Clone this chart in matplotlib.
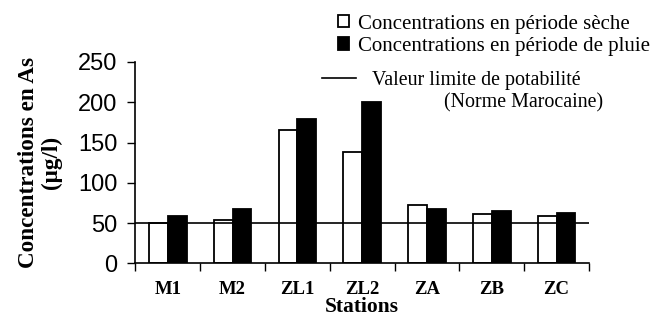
import matplotlib
matplotlib.use("Agg")
import matplotlib.pyplot as plt
from matplotlib.font_manager import FontProperties
import numpy as np

stations = ["M1", "M2", "ZL1", "ZL2", "ZA", "ZB", "ZC"]
dry = [50, 54, 165, 138, 72, 61, 59]
rain = [59, 68, 179, 200, 68, 65, 63]
limit_value = 50
yticks = [0, 50, 100, 150, 200, 250]

label_dry = "Concentrations en période sèche"
label_rain = "Concentrations en période de pluie"
label_limit = "Valeur limite de potabilité"
label_norm = "(Norme Marocaine)"

SERIF = "Liberation Serif"
SANS = "Liberation Sans"

fig = plt.figure(figsize=(6.53, 3.18), dpi=100)
W, H = 653, 318
ax = fig.add_axes([135.3 / W, 1 - 263.3 / H, (589 - 135.3) / W, (263.3 - 62) / H])

x = np.arange(len(stations))
w = 0.29
b1 = ax.bar(x - w / 2, dry, w, facecolor="white", edgecolor="black", linewidth=1.3, zorder=2)
b2 = ax.bar(x + w / 2, rain, w, facecolor="black", edgecolor="black", linewidth=1.3, zorder=2)
ln = ax.axhline(limit_value, color="black", linewidth=1.2, zorder=3)

ax.set_xlim(-0.5, len(stations) - 0.5)
ax.set_ylim(0, 250)
ax.set_yticks(yticks)
ax.set_yticklabels([str(v) for v in yticks], fontproperties=FontProperties(family=SANS, size=17))
ax.tick_params(axis="y", direction="out", length=6, width=1, pad=7)

ax.set_xticks(x)
ax.set_xticklabels(stations, fontproperties=FontProperties(family=SERIF, weight="bold", size=13.5))
ax.set_xticks(np.arange(len(stations) + 1) - 0.5, minor=True)
ax.tick_params(axis="x", which="major", length=0, pad=13)
ax.tick_params(axis="x", which="minor", direction="out", length=6, width=1)

for s in ["top", "right"]:
    ax.spines[s].set_visible(False)
for s in ["left", "bottom"]:
    ax.spines[s].set_linewidth(1.2)

fig.text(362 / W, 1 - 307.5 / H, "Stations", ha="center", va="center",
         fontproperties=FontProperties(family=SERIF, weight="bold", size=15.5))
fig.text(40 / W, 1 - 162 / H, "Concentrations en As\n(µg/l)", ha="center", va="center",
         rotation=90, fontproperties=FontProperties(family=SERIF, weight="bold", size=16.7),
         linespacing=1.1)

legfont = FontProperties(family=SERIF, size=15)
legfont2 = FontProperties(family=SERIF, size=14.4)
leg1 = fig.legend([b1, b2], [label_dry, label_rain], loc="upper left",
                  bbox_to_anchor=(338 / W, 1 - 14.5 / H), frameon=False,
                  prop=legfont, handlelength=0.55,
                  handleheight=0.55, handletextpad=0.4, labelspacing=0.15,
                  borderpad=0, borderaxespad=0)
leg2 = fig.legend([ln], [label_limit], loc="upper left",
                  bbox_to_anchor=(322 / W, 1 - 71 / H), frameon=False,
                  prop=legfont2, handlelength=1.7,
                  handletextpad=0.8, borderpad=0, borderaxespad=0)
fig.text(444 / W, 1 - 103 / H, label_norm, ha="left", va="center",
         fontproperties=legfont2)

fig.savefig("out.png", dpi=100)
